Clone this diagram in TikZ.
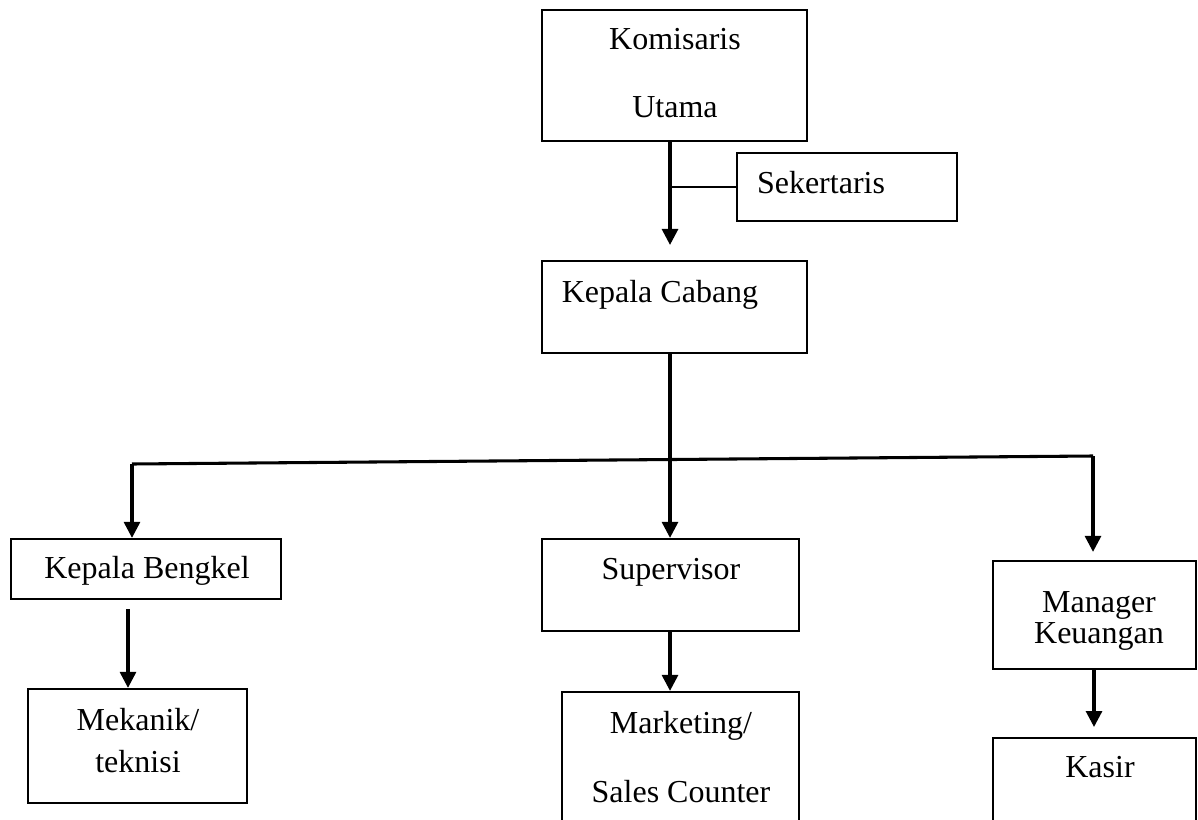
\documentclass[tikz,border=0pt]{standalone}
\usepackage{fontspec}
\setmainfont{Liberation Serif}
\usetikzlibrary{positioning}
\usetikzlibrary{arrows.meta, fit}

\begin{document}
\begin{tikzpicture}[x=0.375pt, y=-0.375pt,
		>={Triangle[length=6pt, width=6pt]},
		jabatan/.style={draw, line width=0.85pt, inner sep=0pt},
		teks/.style={anchor=base, inner sep=0pt, font=\fontsize{12}{14}\selectfont},
		garis/.style={line width=1.15pt}
	]
	\useasboundingbox (0,0) rectangle (1198,820);
	
	\node[jabatan, fit={(542,10) (807,141)}] (ku) {};
	\node[jabatan, fit={(737,153) (957,221)}] (sek) {};
	\node[jabatan, fit={(542,261) (807,353)}] (kc) {};
	\node[jabatan, fit={(11,539) (281,599)}] (kb) {};
	\node[jabatan, fit={(542,539) (799,631)}] (sup) {};
	\node[jabatan, fit={(993,561) (1196,669)}] (mgr) {};
	\node[jabatan, fit={(28,689) (247,803)}] (mk) {};
	\node[jabatan, fit={(562,692) (799,826)}] (ms) {};
	\node[jabatan, fit={(993,738) (1196,826)}] (ks) {};
	
	\node[teks] (kuA) at (675,50) {Komisaris};
	\node[teks] (kuB) at (675,118) {Utama};
	\node[teks] (sekA) at (821,193) {Sekertaris};
	\node[teks] (kcA) at (660,302) {Kepala Cabang};
	\node[teks] (kbA) at (147,578) {Kepala Bengkel};
	\node[teks] (supA) at (671,579) {Supervisor};
	\node[teks] (mgrA) at (1099,612) {Manager};
	\node[teks] (mgrB) at (1099,643) {Keuangan};
	\node[teks] (mkA) at (138,730) {Mekanik/};
	\node[teks] (mkB) at (138,772) {teknisi};
	\node[teks] (msA) at (681,733) {Marketing/};
	\node[teks] (msB) at (681,802) {Sales Counter};
	\node[teks] (ksA) at (1100,777) {Kasir};
	
	\coordinate (tulang) at (670,0);
	\coordinate (busKiri) at (132,464);
	\coordinate (busKanan) at (1093,456);
	
	\draw[garis, ->, shorten >=5.6pt] (ku.south -| tulang) -- (kc.north -| tulang);
	\draw[line width=0.85pt] (sek.west -| tulang) -- (sek.west);
	\draw[garis, ->] (kc.south -| tulang) -- (sup.north -| tulang);
	\draw[garis] (busKiri) -- (busKanan);
	\draw[garis, ->] (busKiri) -- (busKiri |- kb.north);
	\draw[garis, ->, shorten >=3pt] (busKanan) -- (busKanan |- mgr.north);
	
	\draw[garis, ->, shorten <=3.4pt] (kb.south -| 128,0) -- (mk.north -| 128,0);
	\draw[garis, ->] (sup.south -| tulang) -- (ms.north -| tulang);
	\draw[garis, ->, shorten >=3.7pt] (mgr.south -| 1094,0) -- (ks.north -| 1094,0);
\end{tikzpicture}
\end{document}
